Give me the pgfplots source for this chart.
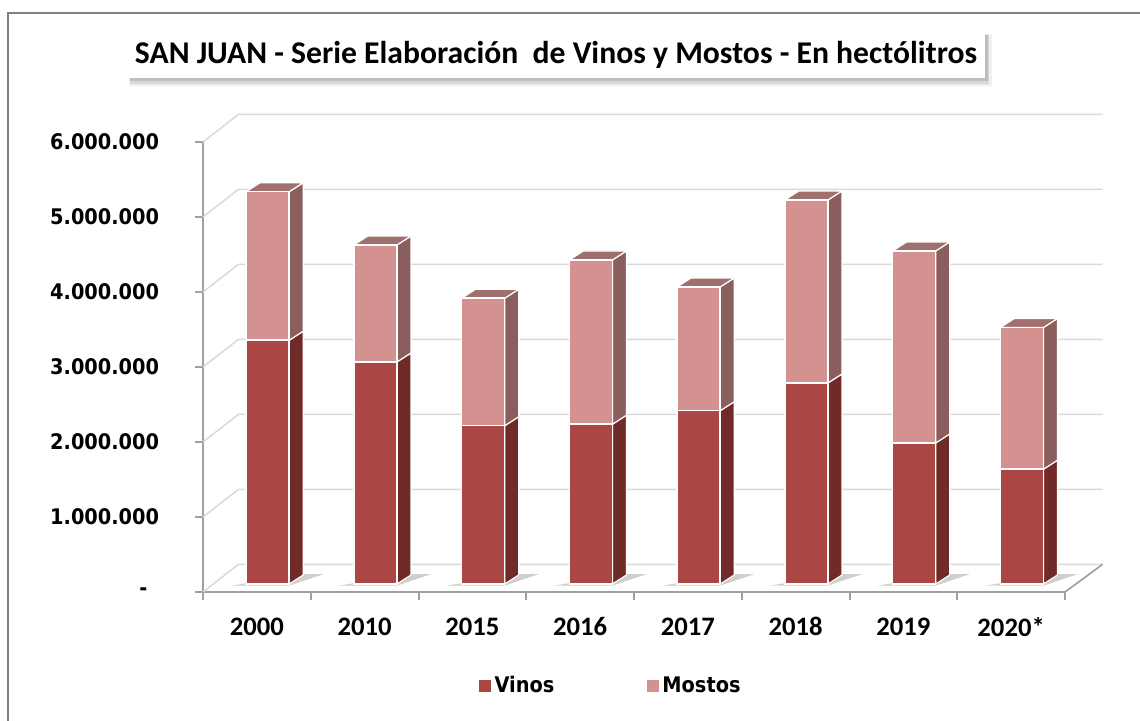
\documentclass[border=0pt]{standalone}
\usepackage{fontspec}
\setmainfont{Carlito}
\newfontfamily\dv{DejaVu Sans Condensed}
\usepackage{pgfplots}
\pgfplotsset{compat=1.18}
\usepackage{pgfplotstable}

\definecolor{vfront}{RGB}{170,70,67}
\definecolor{vside}{RGB}{112,42,40}
\definecolor{mfront}{RGB}{211,145,143}
\definecolor{mside}{RGB}{137,94,92}
\definecolor{mtop}{RGB}{160,112,110}
\definecolor{gridc}{RGB}{217,217,217}
\definecolor{axc}{RGB}{160,160,160}
\definecolor{framec}{RGB}{128,128,128}

% values in millions of hectolitres
\pgfplotstableread{
x year vinos mostos
0 2000 3.25 1.98
1 2010 2.96 1.56
2 2015 2.11 1.70
3 2016 2.13 2.19
4 2017 2.31 1.65
5 2018 2.68 2.44
6 2019 1.88 2.56
7 2020 1.53 1.89
}\data

\newcommand\tickfont{\dv\bfseries\fontsize{12.9}{15}\selectfont}

\begin{document}
\begin{tikzpicture}
\path[use as bounding box] (0,0) rectangle (684pt,432pt);
% outer frame
\draw[framec, line width=1.5pt] (4.8pt,-10pt) -- (4.8pt,424.2pt) -- (700pt,424.2pt);
% title box with shadow
\fill[black, opacity=0.06] (76.2pt+1pt,385.2pt-5pt) rectangle (591pt+4pt,412.8pt-1pt);
\fill[black, opacity=0.10] (76.2pt+2pt,385.2pt-3.5pt) rectangle (591pt+2.5pt,412.8pt-2pt);
\fill[black, opacity=0.12] (76.2pt+2pt,385.2pt-2pt) rectangle (591pt+1.5pt,412.8pt-2pt);
\fill[white] (76.2pt,385.2pt) rectangle (591pt,412.8pt);
\node[font=\bfseries\fontsize{19}{22}\selectfont] at (333.6pt,399pt) {SAN JUAN - Serie Elaboración\ \ de Vinos y Mostos - En hectólitros};

% axis A: walls, grid, axis, side/top faces
\begin{axis}[
  scale only axis, width=517.2pt, height=270pt,
  at={(121.8pt,76.8pt)}, anchor=south west,
  xmin=-0.5, xmax=7.5, ymin=0, ymax=6,
  clip=false, no markers,
  axis x line*=bottom, axis y line*=left,
  x axis line style={-}, y axis line style={-},
  axis line style={axc, line width=1.2pt},
  tick style={axc, line width=1.2pt},
  tick align=outside, major tick length=4.8pt,
  xtick={-0.5,0.5,...,7.5},
  x tick label as interval,
  xticklabels={2000,2010,2015,2016,2017,2018,2019,2020*},
  x tick label style={font=\bfseries\fontsize{16}{18}\selectfont, yshift=-7pt},
  ytick={0,1,...,6},
  yticklabels={{-\hspace*{7pt}},{1.000.000},{2.000.000},{3.000.000},{4.000.000},{5.000.000},{6.000.000}},
  y tick label style={font=\tickfont, xshift=-18pt},
]
% back wall gridlines and left-wall diagonals
\pgfplotsinvokeforeach{0,...,6}{
  \draw[gridc, line width=0.9pt] (axis cs:-0.5,#1) -- (axis cs:-0.17,#1+0.37) -- (axis cs:7.85,#1+0.37);
}
% floor right edge
\draw[axc, line width=1pt] (axis cs:7.5,0) -- (axis cs:7.85,0.37);
% side and top faces of the bars
\pgfplotsinvokeforeach{0,...,7}{%
  \pgfplotstablegetelem{#1}{vinos}\of\data \let\vv\pgfplotsretval
  \pgfplotstablegetelem{#1}{mostos}\of\data \let\mm\pgfplotsretval
  \pgfmathsetmacro\xa{#1+0.30}%
  \pgfmathsetmacro\xb{#1+0.43}%
  \pgfmathsetmacro\xc{#1+0.03}%
  \pgfmathsetmacro\xd{#1-0.10}%
  \pgfmathsetmacro\xs{#1-0.24}%
  \pgfmathsetmacro\xt{#1+0.62}%
  \pgfmathsetmacro\ya{0.107}%
  \pgfmathsetmacro\yb{0.107+\vv}%
  \pgfmathsetmacro\yc{0.107+\vv+\mm}%
  \pgfmathsetmacro\yaa{0.107+0.12}%
  \pgfmathsetmacro\ybb{0.107+\vv+0.12}%
  \pgfmathsetmacro\ycc{0.107+\vv+\mm+0.12}%
  \edef\tmp{%
   \noexpand\addplot[forget plot, draw=none, fill=gray!75, fill opacity=0.5] coordinates {(\xs,0.085) (\xa,0.085) (\xt,0.24) (\xb,0.24) (\xs,0.085)};
   \noexpand\addplot[forget plot, draw=white, line width=0.7pt, fill=vside] coordinates {(\xa,\ya) (\xb,\yaa) (\xb,\ybb) (\xa,\yb) (\xa,\ya)};
   \noexpand\addplot[forget plot, draw=white, line width=0.7pt, fill=mside] coordinates {(\xa,\yb) (\xb,\ybb) (\xb,\ycc) (\xa,\yc) (\xa,\yb)};
   \noexpand\addplot[forget plot, draw=white, line width=0.7pt, fill=mtop] coordinates {(\xd,\yc) (\xa,\yc) (\xb,\ycc) (\xc,\ycc) (\xd,\yc)};
  }\tmp
}
\end{axis}

% axis B: front faces of the stacked bars and legend
\begin{axis}[
  scale only axis, width=517.2pt, height=270pt,
  at={(121.8pt,76.8pt)}, anchor=south west,
  xmin=-0.5, xmax=7.5, ymin=0, ymax=6,
  clip=false, hide axis,
  ybar stacked, bar width=0.4, bar shift=0.1,
  legend columns=2,
  legend style={at={(0.474,-0.209)}, anchor=center, draw=none, fill=none,
    font=\tickfont, /tikz/every even column/.append style={column sep=53.6pt},
    inner sep=0pt},
  legend image code/.code={\fill[#1, draw=none] (-5.6pt,-3.6pt) rectangle (1.6pt,3.6pt);},
]
\addplot[forget plot, draw=none, fill=none] coordinates {(0,0.107) (1,0.107) (2,0.107) (3,0.107) (4,0.107) (5,0.107) (6,0.107) (7,0.107)};
\addplot[fill=vfront, draw=white, line width=0.9pt] table[x=x, y=vinos] {\data};
\addlegendentry{Vinos}
\addplot[fill=mfront, draw=white, line width=0.9pt] table[x=x, y=mostos] {\data};
\addlegendentry{Mostos}
\end{axis}
\end{tikzpicture}
\end{document}
